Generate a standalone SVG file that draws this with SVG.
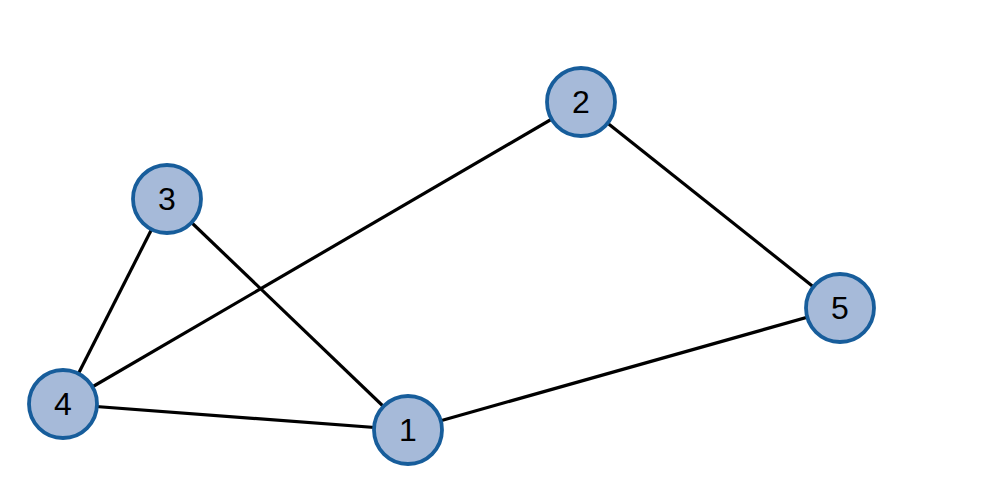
<svg xmlns="http://www.w3.org/2000/svg" width="993" height="485" viewBox="0 0 993 485">
<style>
.e{stroke:#000;stroke-width:3.2;fill:none}
.n circle{fill:#a6bad9;stroke:#175d9b;stroke-width:3.8}
.n text{font-family:"Liberation Sans",Arial,sans-serif;font-size:32px;fill:#000;text-anchor:middle;dominant-baseline:central}
</style>
<rect width="993" height="485" fill="#fff"/>
<g id="edges">
<line class="e" x1="167" y1="199" x2="63" y2="404"/>
<line class="e" x1="167" y1="199" x2="408" y2="430"/>
<line class="e" x1="63" y1="404" x2="581" y2="102"/>
<line class="e" x1="63" y1="404" x2="408" y2="430"/>
<line class="e" x1="581" y1="102" x2="840" y2="308"/>
<line class="e" x1="408" y1="430" x2="840" y2="308"/>
</g>
<g id="node1" class="n"><circle cx="408" cy="430" r="34"/><text x="408" y="430">1</text></g>
<g id="node2" class="n"><circle cx="581" cy="102" r="34"/><text x="581" y="102">2</text></g>
<g id="node3" class="n"><circle cx="167" cy="199" r="34"/><text x="167" y="199">3</text></g>
<g id="node4" class="n"><circle cx="63" cy="404" r="34"/><text x="63" y="404">4</text></g>
<g id="node5" class="n"><circle cx="840" cy="308" r="34"/><text x="840" y="308">5</text></g>
</svg>
